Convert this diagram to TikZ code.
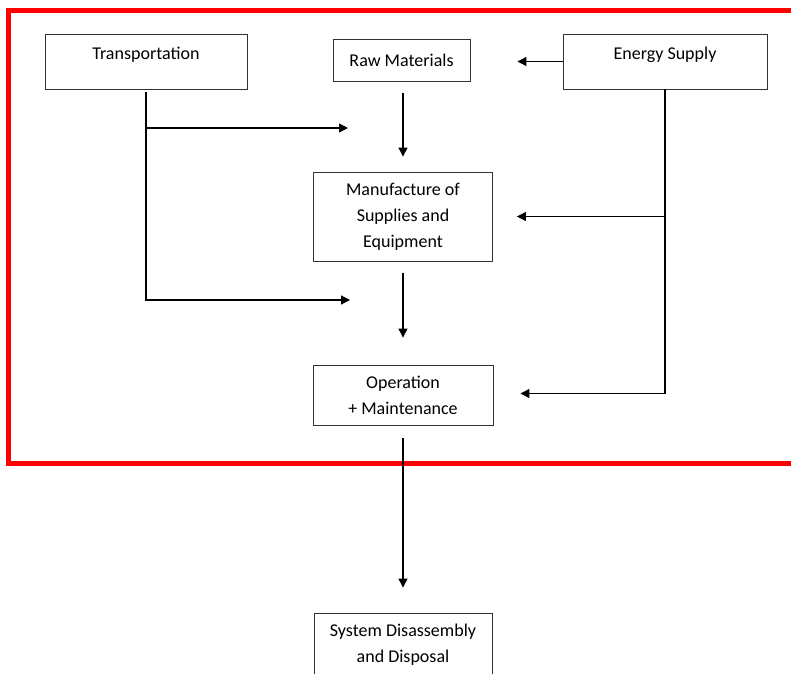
\documentclass[tikz,border=0pt]{standalone}
\usepackage{fontspec}
\setmainfont{Carlito}
\usetikzlibrary{
    arrows.meta,    % 箭头样式
    calc            % 坐标计算
}

\begin{document}
\begin{tikzpicture}[
    x=1pt, y=-1pt,
    >={Triangle[length=9pt,width=9pt]},
    box/.style={draw=black!80, line width=0.9pt, inner sep=0pt, align=center,
        font=\fontsize{18}{26}\selectfont},
    topbox/.style={box, text height=25pt, text depth=30pt},
    arr/.style={line width=1.2pt, ->}
]
    \useasboundingbox (0,0) rectangle (791,673);

    % 红色边框
    \draw[red, line width=5pt] (800,10.5) -| (8.5,463.5) -- (800,463.5);

    % 上排方框
    \node[topbox, minimum width=202pt, minimum height=55pt] (trans) at (146,61.5) {Transportation};
    \node[box, minimum width=137pt, minimum height=42pt] (raw) at (401.5,60.5) {Raw Materials};
    \node[topbox, minimum width=204pt, minimum height=55pt] (energy) at (665,61.5) {Energy Supply};

    % 中间方框
    \node[box, minimum width=179pt, minimum height=89pt] (manu) at (403,216.5)
        {Manufacture of\\Supplies and\\Equipment};
    \node[box, minimum width=180pt, minimum height=60pt] (oper) at (403,395)
        {Operation\\+ Maintenance};
    \node[box, minimum width=178pt, minimum height=63pt] (sys) at (403,644.5)
        {System Disassembly\\and Disposal};

    % 运输的箭头
    \coordinate (tIn1) at (348,128);
    \coordinate (tIn2) at (350,300);
    \draw[arr] ($(trans.south)+(0,3)$) |- (tIn2);
    \draw[arr] (trans.south |- tIn1) -- (tIn1);

    % 能源的箭头
    \draw[arr, shorten >=47pt] (energy.west) -- (raw.east |- energy.west);
    \draw[arr, shorten >=27pt] (energy.south) |- ($(oper.east)+(0,-1.5)$);
    \draw[arr, shorten >=24pt] (energy.south |- manu.east) -- (manu.east);

    % 主流程
    \draw[arr, shorten <=11pt, shorten >=15pt] (raw.south -| manu.north) -- (manu.north);
    \draw[arr, shorten <=12pt, shorten >=27pt] (manu.south) -- (oper.north);
    \draw[arr, shorten <=13pt, shorten >=25pt] (oper.south) -- (sys.north);
\end{tikzpicture}
\end{document}
